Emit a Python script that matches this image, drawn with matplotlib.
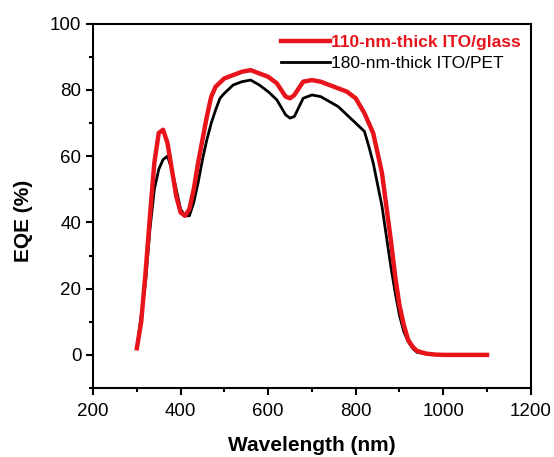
import matplotlib
matplotlib.use("Agg")
import matplotlib.pyplot as plt
from matplotlib.ticker import MultipleLocator

plt.rcParams['font.family'] = ['Liberation Sans', 'DejaVu Sans']

# 110-nm-thick ITO/glass
wl_glass = [300, 310, 320, 330, 340, 350, 360, 370, 380, 390, 400, 410, 420, 430, 440,
            450, 460, 470, 480, 500, 520, 540, 560, 580, 600, 620, 640, 650, 660, 680,
            700, 720, 740, 760, 780, 800, 820, 840, 860, 870, 880, 890, 900, 910, 920,
            930, 940, 960, 980, 1000, 1100]
eqe_glass = [2, 10, 25, 42, 58, 67, 68, 64, 56, 48, 43, 42, 44, 50, 58,
             65, 72, 78, 81, 83.5, 84.5, 85.5, 86, 85, 84, 82, 78, 77.5, 78.5, 82.5,
             83, 82.5, 81.5, 80.5, 79.5, 77.5, 73, 67, 55, 45, 35, 24, 15, 9, 4.5,
             2.5, 1.2, 0.4, 0.1, 0, 0]

# 180-nm-thick ITO/PET
wl_pet = [300, 320, 330, 340, 350, 360, 370, 380, 390, 400, 410, 420, 430, 440, 450,
          460, 470, 480, 490, 500, 520, 540, 560, 580, 600, 620, 640, 650, 660, 680, 700,
          720, 740, 760, 780, 800, 820, 830, 840, 860, 870, 880, 890, 900, 910, 920,
          930, 940, 960, 1000, 1100]
eqe_pet = [2, 22, 38, 50, 56, 59, 60, 56, 50, 44, 42, 42, 46, 52, 59,
           65, 70, 74, 77.5, 79, 81.5, 82.5, 83, 81.5, 79.5, 77, 72.5, 71.5, 72, 77.5, 78.5,
           78, 76.5, 75, 72.5, 70, 67.5, 63, 58, 45, 36, 27, 19, 12, 7, 4,
           2, 0.8, 0.3, 0, 0]

fig = plt.figure(figsize=(5.54, 4.57), dpi=100)
ax = fig.add_axes([0.168, 0.151, 0.79, 0.797])

ax.plot(wl_pet, eqe_pet, color='black', lw=2, label='180-nm-thick ITO/PET', zorder=2)
ax.plot(wl_glass, eqe_glass, color='#e8141b', lw=3.2, label='110-nm-thick ITO/glass', zorder=3)

ax.set_xlim(200, 1200)
ax.set_ylim(-10, 100)
ax.xaxis.set_major_locator(MultipleLocator(200))
ax.xaxis.set_minor_locator(MultipleLocator(100))
ax.yaxis.set_major_locator(MultipleLocator(20))
ax.yaxis.set_minor_locator(MultipleLocator(10))
ax.tick_params(which='both', direction='out', width=1.5, labelsize=13.5)
ax.tick_params(which='major', length=5)
ax.tick_params(which='minor', length=3)
ax.tick_params(axis='x', pad=6)
for s in ax.spines.values():
    s.set_linewidth(1.5)

ax.set_xlabel('Wavelength (nm)', fontsize=15, fontweight='bold')
ax.set_ylabel('EQE (%)', fontsize=15, fontweight='bold')
ax.xaxis.set_label_coords(0.5, -0.157, transform=ax.transAxes)
ax.yaxis.set_label_coords(-0.16, 0.459, transform=ax.transAxes)
ax.xaxis.label.set_va('center')
ax.yaxis.label.set_va('center')

h, l = ax.get_legend_handles_labels()
leg = ax.legend(h[::-1], l[::-1], loc='upper right', frameon=False, fontsize=12.5,
                handlelength=2.8, handletextpad=0.1, borderaxespad=0.15,
                labelspacing=0.3, bbox_to_anchor=(1.0, 0.995))
texts = leg.get_texts()
texts[0].set_color('#e8141b')
texts[0].set_fontweight('bold')

fig.savefig('out.png', dpi=100)
